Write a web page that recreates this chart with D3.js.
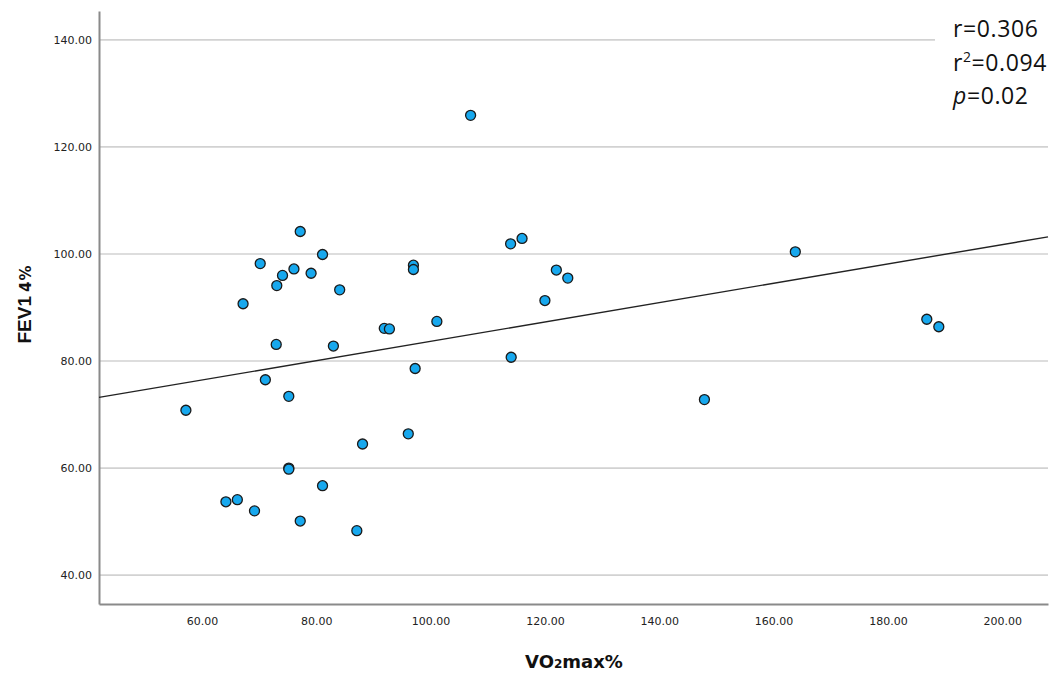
<!DOCTYPE html>
<html>
<head>
<meta charset="utf-8">
<script src="https://cdn.jsdelivr.net/npm/d3@7"></script>
<style>
  body { margin: 0; background: #fff; }
  svg { display: block; }
</style>
</head>
<body>
<div id="chart"></div>
<script>
// VO2max% values (x) and FEV1% values (y)
const vo2max = [57.2, 64.2, 66.2, 67.2, 69.2, 70.2, 71.1, 73.0, 73.1, 74.1,
  75.2, 75.2, 75.2, 76.1, 77.2, 77.2, 79.1, 81.1, 81.1, 83.0,
  84.1, 87.1, 88.1, 91.9, 92.8, 96.1, 97.0, 97.0, 97.3, 101.1,
  107.0, 114.0, 114.1, 116.0, 120.0, 122.0, 124.0, 147.9, 163.8, 186.8, 188.9];
const fev1 = [70.8, 53.7, 54.1, 90.7, 52.0, 98.2, 76.5, 83.1, 94.1, 96.0,
  73.4, 60.0, 59.8, 97.2, 104.2, 50.1, 96.4, 99.9, 56.7, 82.8,
  93.3, 48.3, 64.5, 86.1, 86.0, 66.4, 97.9, 97.1, 78.6, 87.4,
  125.9, 101.9, 80.7, 102.9, 91.3, 97.0, 95.5, 72.8, 100.4, 87.8, 86.4];

const xTicks = [60, 80, 100, 120, 140, 160, 180, 200];
const yTicks = [40, 60, 80, 100, 120, 140];

// fitted line, value at both ends of the x range
const fitX = [42, 208];
const fitY = [73.2, 103.2];

const stats = ["r=0.306", "r2=0.094", "p=0.02"];

const W = 1053, H = 673;
const margin = {top: 11, right: 5, bottom: 69, left: 99};

const svg = d3.select("#chart").append("svg")
  .attr("width", W)
  .attr("height", H);

const x = d3.scaleLinear().domain([42, 208]).range([margin.left, W - margin.right]);
const y = d3.scaleLinear().domain([34.6, 145.4]).range([H - margin.bottom, margin.top]);

// grid lines
svg.append("g")
  .selectAll("line")
  .data(yTicks)
  .enter().append("line")
  .attr("x1", margin.left)
  .attr("x2", W - margin.right)
  .attr("y1", d => y(d))
  .attr("y2", d => y(d))
  .attr("stroke", "#d2d2d2")
  .attr("stroke-width", 1.7);

// y axis
let yAxis = svg.append("g")
  .attr("transform", "translate(" + margin.left + ",0)")
  .call(d3.axisLeft(y).tickValues(yTicks).tickSize(0).tickPadding(7).tickFormat(d3.format(".2f")));
yAxis.select(".domain").attr("stroke", "#8a8a8a").attr("stroke-width", 2);
yAxis.selectAll("text")
  .attr("font-family", "DejaVu Sans")
  .attr("font-size", 11)
  .attr("fill", "#222");

// x axis
let xAxis = svg.append("g")
  .attr("transform", "translate(0," + (H - margin.bottom) + ")")
  .call(d3.axisBottom(x).tickValues(xTicks).tickSize(0).tickPadding(13).tickFormat(d3.format(".2f")));
xAxis.select(".domain").attr("stroke", "#8a8a8a").attr("stroke-width", 2);
xAxis.selectAll("text")
  .attr("font-family", "DejaVu Sans")
  .attr("font-size", 11)
  .attr("fill", "#222");

// fit line
svg.append("line")
  .attr("x1", x(fitX[0]))
  .attr("y1", y(fitY[0]))
  .attr("x2", x(fitX[1]))
  .attr("y2", y(fitY[1]))
  .attr("stroke", "#222")
  .attr("stroke-width", 1.4);

// points
svg.append("g")
  .selectAll("circle")
  .data(vo2max.map((v, i) => [v, fev1[i]]))
  .enter().append("circle")
  .attr("cx", d => x(d[0]))
  .attr("cy", d => y(d[1]))
  .attr("r", 5)
  .attr("fill", "#17a8ee")
  .attr("stroke", "#1a1a1a")
  .attr("stroke-width", 1.3);

// stats box covers the top grid line
svg.append("rect")
  .attr("x", 935)
  .attr("y", 0)
  .attr("width", W - 935)
  .attr("height", 110)
  .attr("fill", "#fff");

let statText = svg.append("g")
  .attr("font-family", "Open Sans")
  .attr("font-size", 23)
  .attr("letter-spacing", 0.6)
  .attr("fill", "#111");

statText.append("text").attr("x", 953).attr("y", 37).text(stats[0]);

let t2 = statText.append("text").attr("x", 953).attr("y", 71);
t2.append("tspan").text("r");
t2.append("tspan").attr("font-size", 14).attr("dy", -9).text("2");
t2.append("tspan").attr("dy", 9).text("=0.094");

let t3 = statText.append("text").attr("x", 953).attr("y", 104);
t3.append("tspan").attr("font-style", "italic").text("p");
t3.append("tspan").text("=0.02");

// axis titles
let xt = svg.append("text")
  .attr("x", 574)
  .attr("y", 668)
  .attr("text-anchor", "middle")
  .attr("font-family", "DejaVu Sans")
  .attr("font-weight", "bold")
  .attr("font-size", 18)
  .attr("fill", "#111");
xt.append("tspan").text("VO");
xt.append("tspan").attr("font-size", 12).text("2");
xt.append("tspan").text("max%");

let yt = svg.append("text")
  .attr("transform", "translate(31,304) rotate(-90)")
  .attr("text-anchor", "middle")
  .attr("font-family", "Liberation Sans")
  .attr("fill", "#111");
yt.append("tspan").attr("font-weight", "bold").attr("font-size", 19).text("FEV1");
yt.append("tspan").attr("font-family", "DejaVu Sans").attr("font-weight", "bold").attr("font-size", 15).attr("dx", 4).attr("letter-spacing", 1).text("4%");
</script>
</body>
</html>
